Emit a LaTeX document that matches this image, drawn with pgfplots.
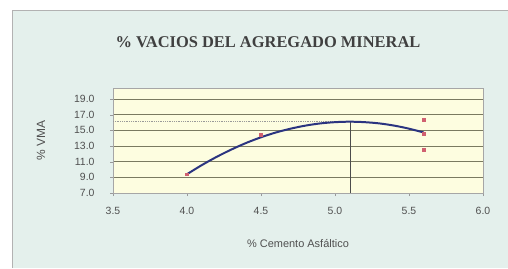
\documentclass[border=0pt]{standalone}
\usepackage{pgfplots}
\pgfplotsset{compat=1.18}
\usepackage{fontspec}
\setmainfont{Liberation Sans}
\newfontfamily\titlefont{Liberation Serif}
\definecolor{bgteal}{HTML}{E4F0EC}
\definecolor{plotbg}{HTML}{FDFDE0}
\definecolor{gridc}{HTML}{7A7A60}
\definecolor{curvec}{HTML}{2B3480}
\definecolor{markc}{HTML}{D06070}
\definecolor{txtc}{HTML}{505050}
\begin{document}
\begin{tikzpicture}[x=1bp,y=1bp]
\useasboundingbox (0,0) rectangle (508,268);
\fill[white] (0,0) rectangle (508,268);
\fill[bgteal] (12,0) rectangle (508,258);
\draw[gray!60] (12,0) -- (12,258) -- (508,258);
\node[font=\titlefont\bfseries\fontsize{16.5}{18}\selectfont, text=black!75] at (268,226) {\% VACIOS DEL AGREGADO MINERAL};
\begin{axis}[
  at={(113bp,75bp)}, anchor=south west,
  scale only axis, width=370bp, height=105bp,
  xmin=3.5, xmax=6.0, ymin=7, ymax=20.4,
  xtick={3.5,4.0,4.5,5.0,5.5,6.0},
  ytick={7,9,11,13,15,17,19},
  xticklabel style={yshift=-8bp, /pgf/number format/.cd, fixed, fixed zerofill, precision=1},
  yticklabel style={xshift=-12bp, /pgf/number format/.cd, fixed, fixed zerofill, precision=1},
  /pgf/number format/assume math mode=true,
  tick label style={font=\fontsize{10.5}{12}\selectfont, text=txtc},
  ymajorgrids, grid style={gridc, line width=0.8pt},
  axis background/.style={fill=plotbg},
  axis line style={gray!70},
  tick style={gray!80},
  tick align=outside, major tick length=3bp,
  xtick pos=bottom, ytick pos=left,
  xlabel={\% Cemento Asfáltico},
  ylabel={\% VMA},
  label style={font=\fontsize{11}{12}\selectfont, text=txtc},
  xlabel style={yshift=-18bp},
  ylabel style={yshift=22bp, font=\fontsize{12}{13}\selectfont},
  clip=false,
]
% reference lines
\addplot[gray!80, densely dotted, line width=0.8pt] coordinates {(3.5,16.1) (5.1,16.1)};
\addplot[black!70, line width=0.6pt] coordinates {(5.1,7) (5.1,16.1)};
% fitted curve
\addplot[curvec, line width=2pt, smooth] coordinates {
(4.0,9.40) (4.1,10.56) (4.2,11.61) (4.3,12.55) (4.4,13.39) (4.5,14.11)
(4.6,14.72) (4.7,15.21) (4.8,15.60) (4.9,15.88) (5.0,16.04) (5.1,16.10)
(5.2,16.04) (5.3,15.88) (5.4,15.60) (5.5,15.21) (5.6,14.72)};
% data points
\addplot[only marks, mark=square*, mark size=1.5pt, markc, mark options={fill=markc, draw=markc}] coordinates {
(4.0,9.4) (4.5,14.4) (5.6,16.3) (5.6,14.6) (5.6,12.5)};
\end{axis}
\end{tikzpicture}
\end{document}
